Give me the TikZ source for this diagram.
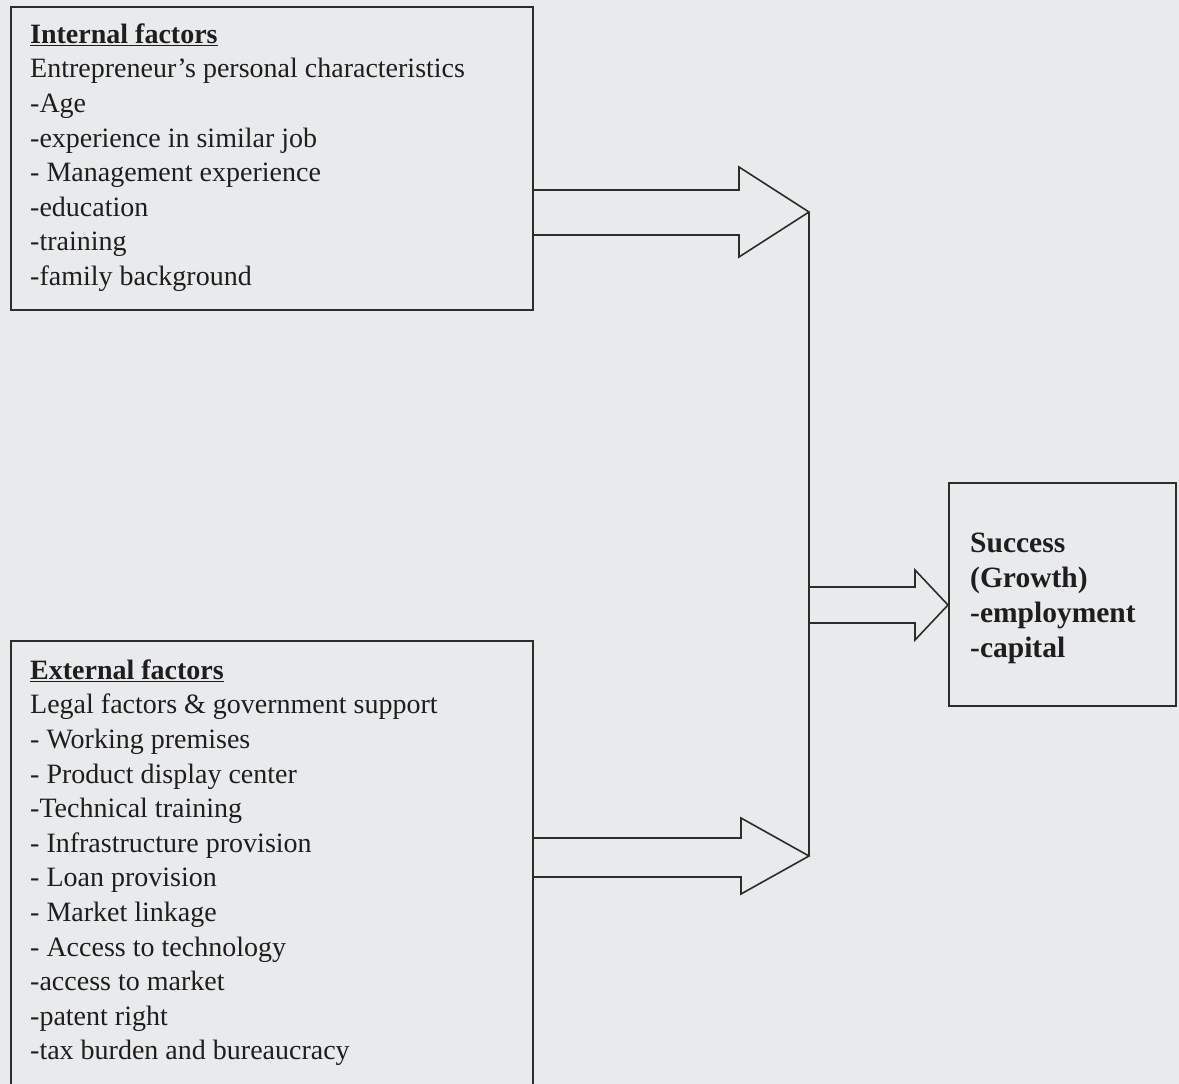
\documentclass[tikz,border=0pt]{standalone}
\usepackage{fontspec}
\setmainfont{Liberation Serif}
\definecolor{bg}{HTML}{E9EAEC}
\definecolor{ink}{HTML}{2B2D2A}
\definecolor{txt}{HTML}{1E1E1E}
\tikzset{
  boxframe/.style={draw=ink, line width=1.7pt, rectangle, inner sep=0pt, anchor=north west},
  boxtext/.style={anchor=north west, inner sep=0pt, align=left, text=txt,
     font=\fontsize{28}{34.6}\selectfont},
  succtext/.style={anchor=north west, inner sep=0pt, align=left, text=txt,
     font=\fontsize{29.5}{35}\selectfont\bfseries},
  blockarrow/.style={draw=ink, line width=1.6pt, line join=miter}
}
\newcommand{\topstrut}{\rule{0pt}{20pt}}
\begin{document}
\begin{tikzpicture}[x=1pt,y=-1pt]
\useasboundingbox (0,0) rectangle (1179,1084);
\fill[bg] (0,0) rectangle (1179,1084);
\clip (0,0) rectangle (1179,1084);

% boxes
\node[boxframe, minimum width=522pt, minimum height=303pt] (int) at (10,6) {};
\node[boxframe, minimum width=522pt, minimum height=480pt] (ext) at (10,640) {};
\node[boxframe, minimum width=227pt, minimum height=223pt] (succ) at (948,482) {};

% texts
\node[boxtext] (inttext) at (30,23) {\topstrut\underline{\textbf{Internal factors}}\\
Entrepreneur's personal characteristics\\
-Age\\
-experience in similar job\\
- Management experience\\
-education\\
-training\\
-family background};

\node[boxtext] (exttext) at (30,659) {\topstrut\underline{\textbf{External factors}}\\
Legal factors \& government support\\
- Working premises\\
- Product display center\\
-Technical training\\
- Infrastructure provision\\
- Loan provision\\
- Market linkage\\
- Access to technology\\
-access to market\\
-patent right\\
-tax burden and bureaucracy};

\node[succtext] (succtext) at (970,532) {\topstrut Success\\
(Growth)\\
-employment\\
-capital};

% arrow tips
\coordinate (tip1) at (809,212);
\coordinate (tip2) at (809,856);
\coordinate (tip3) at (succ.west |- 0,605);

% arrow 1: internal -> junction
\draw[blockarrow] (int.east |- 0,190) -- (739,190) -- (739,167) -- (tip1)
  -- (739,257) -- (739,235) -- (int.east |- 0,235);
% arrow 2: external -> junction
\draw[blockarrow] (ext.east |- 0,838) -- (741,838) -- (741,818) -- (tip2)
  -- (741,894) -- (741,877) -- (ext.east |- 0,877);
% junction line
\draw[blockarrow] (tip1) -- (tip2);
% arrow 3: junction -> success
\draw[blockarrow] (809,587) -- (915,587) -- (915,570) -- (tip3)
  -- (915,640) -- (915,623) -- (809,623);
\end{tikzpicture}
\end{document}
